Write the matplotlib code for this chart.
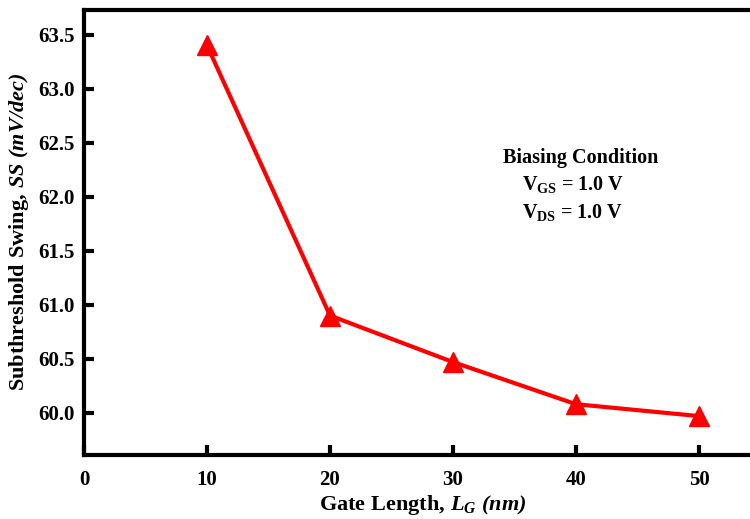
import matplotlib
matplotlib.use("Agg")
import matplotlib.pyplot as plt

gate_length = [10, 20, 30, 40, 50]
ss_values = [63.40, 60.90, 60.47, 60.08, 59.97]
x_ticks = [0, 10, 20, 30, 40, 50]
y_ticks = [60.0, 60.5, 61.0, 61.5, 62.0, 62.5, 63.0, 63.5]

plt.rcParams["font.family"] = ["Liberation Serif", "DejaVu Serif"]
plt.rcParams["font.weight"] = "bold"
plt.rcParams["mathtext.fontset"] = "custom"
plt.rcParams["mathtext.rm"] = "Liberation Serif:bold"
plt.rcParams["mathtext.it"] = "Liberation Serif:italic:bold"
plt.rcParams["mathtext.bf"] = "Liberation Serif:bold"

fig = plt.figure(figsize=(7.5, 5.19), dpi=100)
ax = fig.add_axes([0.112, 0.1233, 0.902, 0.858])

ax.plot(gate_length, ss_values, color="#ff0000", lw=3, marker="^",
        markersize=14, clip_on=False, zorder=3)

ax.set_xlim(0, 55)
ax.set_ylim(59.61, 63.73)
ax.set_xticks(x_ticks)
ax.set_yticks(y_ticks)
ax.set_yticklabels([f"{v:.1f}" for v in y_ticks])

for side in ["left", "bottom", "top"]:
    ax.spines[side].set_linewidth(3)
ax.spines["right"].set_visible(False)
ax.tick_params(direction="in", length=7, width=3, labelsize=15)
ax.tick_params(axis="x", pad=11)
ax.tick_params(axis="y", pad=7)
for lab in ax.get_xticklabels() + ax.get_yticklabels():
    lab.set_fontweight("bold")

ax.set_xlabel(r"$\mathrm{Gate\ Length,}\,L_G$ (nm)", fontsize=16,
              fontweight="bold", fontstyle="italic", labelpad=2)
ax.set_ylabel(r"$\mathrm{Subthreshold\ Swing,}\,\mathit{SS}$ (mV/dec)", fontsize=16,
              fontweight="bold", fontstyle="italic", labelpad=5)

ax.text(40.4, 62.36, "Biasing Condition", fontsize=14.5, fontweight="bold", ha="center", va="center")
ax.text(35.6, 62.11, r"$\mathrm{V_{GS}}$ = 1.0 V", fontsize=14.5, fontweight="bold", ha="left", va="center")
ax.text(35.6, 61.85, r"$\mathrm{V_{DS}}$ = 1.0 V", fontsize=14.5, fontweight="bold", ha="left", va="center")

fig.savefig("out.png", dpi=100)
